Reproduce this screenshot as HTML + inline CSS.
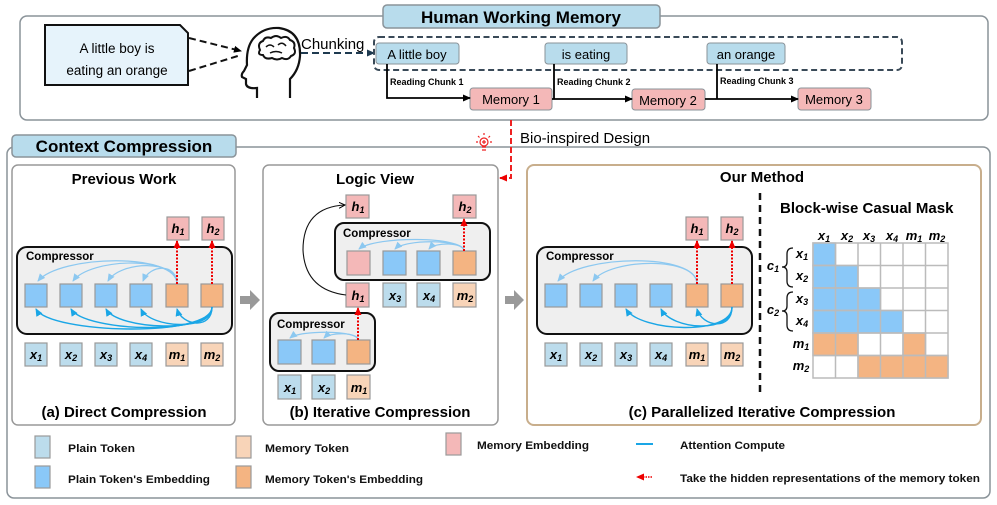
<!DOCTYPE html>
<html><head><meta charset="utf-8"><style>
html,body{margin:0;padding:0;background:#fff}
svg{display:block}
text{font-family:"Liberation Sans",sans-serif}
.m{font-family:"Liberation Serif",serif;font-style:italic;font-weight:bold;font-size:13px}
.s{font-size:9px}
.lg{font-size:11px;fill:#111;font-weight:bold}
</style></head><body>
<svg width="997" height="505" viewBox="0 0 997 505" xmlns="http://www.w3.org/2000/svg">
<defs>
<marker id="ab" markerWidth="8" markerHeight="8" refX="7" refY="4" orient="auto" markerUnits="userSpaceOnUse"><path d="M0,0.5 L8,4 L0,7.5 z" fill="#000"/></marker>
<marker id="ad" markerWidth="8" markerHeight="8" refX="7" refY="4" orient="auto" markerUnits="userSpaceOnUse"><path d="M0,0.5 L8,4 L0,7.5 z" fill="#1e3a50"/></marker>
<marker id="ar" markerWidth="8" markerHeight="8" refX="7" refY="4" orient="auto" markerUnits="userSpaceOnUse"><path d="M0,0.5 L8,4 L0,7.5 z" fill="#e00"/></marker>
<marker id="al" markerWidth="8" markerHeight="8" refX="7" refY="4" orient="auto" markerUnits="userSpaceOnUse"><path d="M0,0.5 L8,4 L0,7.5 z" fill="#8cc8f0"/></marker>
<marker id="ak" markerWidth="8" markerHeight="8" refX="7" refY="4" orient="auto" markerUnits="userSpaceOnUse"><path d="M0,0.5 L8,4 L0,7.5 z" fill="#1aa6e6"/></marker>
<marker id="an" markerWidth="7" markerHeight="7" refX="6" refY="3.5" orient="auto" markerUnits="userSpaceOnUse"><path d="M0,0.5 L6,3.5 L0,6.5" fill="none" stroke="#000"/></marker>
</defs>

<!-- Human Working Memory -->
<rect x="20" y="16" width="968" height="104" rx="7" fill="#fff" stroke="#8a9399" stroke-width="1.5"/>
<rect x="383" y="5" width="277" height="23" rx="4" fill="#b8dcec" stroke="#8a9399" stroke-width="1.5"/>
<text x="521" y="23" text-anchor="middle" font-weight="bold" font-size="17">Human Working Memory</text>

<path d="M45,25 L180,25 L188,33 L188,85 L45,85 z" fill="#e6f3fb" stroke="#111" stroke-width="2"/>
<text x="117" y="53" text-anchor="middle" font-size="13.5">A little boy is</text>
<text x="117" y="75" text-anchor="middle" font-size="13.5">eating an orange</text>
<line x1="189" y1="38" x2="241" y2="51" stroke="#111" stroke-width="2" stroke-dasharray="7,4" marker-end="url(#ab)"/>
<line x1="189" y1="71" x2="241" y2="55" stroke="#111" stroke-width="2" stroke-dasharray="7,4"/>
<!-- head -->
<path d="M257,98 L257,88 Q247,89 246,84 L246,79 L242,77 Q241,74 244,71 L247,65 Q246,48 253,39 Q263,27 279,28 Q301,31 300,56 Q299,70 290,79 L290,98" fill="none" stroke="#111" stroke-width="2.2"/>
<path d="M260,50 Q257,43 263,41 Q265,36 271,38 Q276,34 281,38 Q287,35 290,40 Q296,42 294,48 Q297,54 291,56 Q288,61 282,58 Q277,61 272,58 Q265,60 263,55 Q257,55 260,50 z" fill="none" stroke="#111" stroke-width="2"/>
<path d="M266,47 Q270,43 274,47 M278,45 Q282,41 286,46 M270,53 Q276,50 282,53" fill="none" stroke="#111" stroke-width="1.5"/>
<text x="301" y="49" font-size="15">Chunking</text>
<line x1="301" y1="53" x2="374" y2="53" stroke="#1e3a50" stroke-width="2" stroke-dasharray="7,4" marker-end="url(#ad)"/>
<rect x="374" y="37" width="528" height="33" rx="5" fill="none" stroke="#3a4a58" stroke-width="2" stroke-dasharray="6,3.5"/>
<rect x="376" y="43" width="83" height="21" rx="3" fill="#b8dcec" stroke="#8a9399"/>
<text x="417" y="59" text-anchor="middle" font-size="13">A little boy</text>
<rect x="545" y="43" width="82" height="21" rx="3" fill="#b8dcec" stroke="#8a9399"/>
<text x="586" y="59" text-anchor="middle" font-size="13">is eating</text>
<rect x="707" y="43" width="78" height="21" rx="3" fill="#b8dcec" stroke="#8a9399"/>
<text x="746" y="59" text-anchor="middle" font-size="13">an orange</text>
<rect x="470" y="88" width="82" height="22" rx="3" fill="#f4b8b8" stroke="#8a9399"/>
<text x="511" y="104" text-anchor="middle" font-size="13">Memory 1</text>
<rect x="632" y="89" width="73" height="21" rx="3" fill="#f4b8b8" stroke="#8a9399"/>
<text x="668" y="105" text-anchor="middle" font-size="13">Memory 2</text>
<rect x="798" y="88" width="73" height="22" rx="3" fill="#f4b8b8" stroke="#8a9399"/>
<text x="834" y="104" text-anchor="middle" font-size="13">Memory 3</text>
<path d="M387,64 L387,98 L470,98" fill="none" stroke="#000" stroke-width="1.8" marker-end="url(#ab)"/>
<path d="M554,64 L554,99 M552,99 L632,99" fill="none" stroke="#000" stroke-width="1.8" marker-end="url(#ab)"/>
<path d="M717,64 L717,99 M705,99 L798,99" fill="none" stroke="#000" stroke-width="1.8" marker-end="url(#ab)"/>
<text x="390" y="85" font-size="9" font-weight="bold">Reading Chunk 1</text>
<text x="557" y="85" font-size="9" font-weight="bold">Reading Chunk 2</text>
<text x="720" y="84" font-size="9" font-weight="bold">Reading Chunk 3</text>

<!-- Context Compression -->
<rect x="7" y="147" width="983" height="351" rx="7" fill="none" stroke="#8a9399" stroke-width="1.5"/>
<rect x="12" y="135" width="224" height="22" rx="4" fill="#b8dcec" stroke="#8a9399" stroke-width="1.5"/>
<text x="124" y="152" text-anchor="middle" font-weight="bold" font-size="17">Context Compression</text>
<!-- bio-inspired -->
<rect x="484" y="148" width="36" height="12" fill="#fff"/>
<g stroke="#e22" stroke-width="1.2" fill="none">
<circle cx="484" cy="142" r="4"/><path d="M482,147 L486,147 M482,150 L486,150 M484,140 L484,144 M482,142 L486,142"/>
<path d="M476,142 L478,142 M490,142 L492,142 M484,133 L484,135 M478,136 L479.5,137.5 M490,136 L488.5,137.5"/>
</g>
<path d="M511,120 L511,178 L500,178" fill="none" stroke="#e22" stroke-width="2" stroke-dasharray="6,3" marker-end="url(#ar)"/>
<text x="520" y="143" font-size="15">Bio-inspired Design</text>

<!-- panels -->
<rect x="12" y="165" width="223" height="260" rx="6" fill="#fff" stroke="#999" stroke-width="1.5"/>
<rect x="263" y="165" width="235" height="260" rx="6" fill="#fff" stroke="#999" stroke-width="1.5"/>
<rect x="527" y="165" width="454" height="260" rx="7" fill="#fff" stroke="#c8ae8c" stroke-width="2"/>
<path d="M240,296 L250,296 L250,290 L260,300 L250,310 L250,304 L240,304 z" fill="#999"/>
<path d="M505,296 L514,296 L514,290 L524,300 L514,310 L514,304 L505,304 z" fill="#999"/>
<text x="124" y="184" text-anchor="middle" font-size="15" font-weight="bold">Previous Work</text>
<text x="375" y="184" text-anchor="middle" font-size="15" font-weight="bold">Logic View</text>
<text x="762" y="182" text-anchor="middle" font-size="15" font-weight="bold">Our Method</text>
<text x="124" y="417" text-anchor="middle" font-size="15" font-weight="bold">(a) Direct Compression</text>
<text x="380" y="417" text-anchor="middle" font-size="15" font-weight="bold">(b) Iterative Compression</text>
<text x="762" y="417" text-anchor="middle" font-size="15" font-weight="bold">(c) Parallelized Iterative Compression</text>

<!-- Panel a -->
<rect x="17" y="247" width="215" height="87" rx="10" fill="#efefef" stroke="#111" stroke-width="2"/>
<text x="26" y="260" font-size="11.5" font-weight="bold">Compressor</text>
<g stroke="#999" stroke-width="1.2">
<rect x="25" y="284" width="22" height="23" fill="#8ac8f8"/><rect x="60" y="284" width="22" height="23" fill="#8ac8f8"/>
<rect x="95" y="284" width="22" height="23" fill="#8ac8f8"/><rect x="130" y="284" width="22" height="23" fill="#8ac8f8"/>
<rect x="166" y="284" width="22" height="23" fill="#f4b482"/><rect x="201" y="284" width="22" height="23" fill="#f4b482"/>
<rect x="167" y="217" width="22" height="23" fill="#f4b8b8"/><rect x="202" y="217" width="22" height="23" fill="#f4b8b8"/>
<rect x="25" y="343" width="22" height="23" fill="#bcdcec"/><rect x="60" y="343" width="22" height="23" fill="#bcdcec"/>
<rect x="95" y="343" width="22" height="23" fill="#bcdcec"/><rect x="130" y="343" width="22" height="23" fill="#bcdcec"/>
<rect x="166" y="343" width="22" height="23" fill="#f8d4b8"/><rect x="201" y="343" width="22" height="23" fill="#f8d4b8"/>
</g>
<g fill="none" stroke="#8cc8f0" stroke-width="1.2" marker-end="url(#al)">
<path d="M177,284 C177,252 60,255 38,281"/><path d="M177,284 C177,255 90,258 73,281"/><path d="M177,284 C177,259 120,261 108,281"/><path d="M177,284 C177,263 150,264 143,281"/>
</g>
<g fill="none" stroke="#1aa6e6" stroke-width="1.4" marker-end="url(#ak)">
<path d="M212,307 C212,338 50,334 36,309"/><path d="M212,307 C212,336 85,332 71,309"/><path d="M212,307 C212,334 118,330 106,309"/><path d="M212,307 C212,332 150,328 141,309"/><path d="M212,307 C212,330 182,326 177,309"/>
</g>
<g stroke="#e00" stroke-width="2" stroke-dasharray="2,1.5" marker-end="url(#ar)"><line x1="177" y1="284" x2="177" y2="241"/><line x1="212" y1="284" x2="212" y2="241"/></g>
<g class="m" text-anchor="middle">
<text x="178" y="233">h<tspan class="s" dy="2">1</tspan></text><text x="213" y="233">h<tspan class="s" dy="2">2</tspan></text>
<text x="36" y="359">x<tspan class="s" dy="2">1</tspan></text><text x="71" y="359">x<tspan class="s" dy="2">2</tspan></text>
<text x="106" y="359">x<tspan class="s" dy="2">3</tspan></text><text x="141" y="359">x<tspan class="s" dy="2">4</tspan></text>
<text x="177" y="359">m<tspan class="s" dy="2">1</tspan></text><text x="212" y="359">m<tspan class="s" dy="2">2</tspan></text>
</g>

<!-- Panel b -->
<rect x="335" y="223" width="155" height="57" rx="9" fill="#efefef" stroke="#111" stroke-width="2"/>
<text x="343" y="237" font-size="11.5" font-weight="bold">Compressor</text>
<rect x="270" y="313" width="105" height="58" rx="9" fill="#efefef" stroke="#111" stroke-width="2"/>
<text x="277" y="328" font-size="11.5" font-weight="bold">Compressor</text>
<g stroke="#999" stroke-width="1.2">
<rect x="346" y="195" width="23" height="23" fill="#f4b8b8"/><rect x="453" y="195" width="23" height="23" fill="#f4b8b8"/>
<rect x="347" y="251" width="23" height="24" fill="#f4b8b8"/><rect x="383" y="251" width="23" height="24" fill="#8ac8f8"/>
<rect x="417" y="251" width="23" height="24" fill="#8ac8f8"/><rect x="453" y="251" width="23" height="24" fill="#f4b482"/>
<rect x="346" y="283" width="23" height="24" fill="#f4b8b8"/><rect x="383" y="283" width="23" height="24" fill="#bcdcec"/>
<rect x="417" y="283" width="23" height="24" fill="#bcdcec"/><rect x="453" y="283" width="23" height="24" fill="#f8d4b8"/>
<rect x="278" y="340" width="23" height="24" fill="#8ac8f8"/><rect x="312" y="340" width="23" height="24" fill="#8ac8f8"/><rect x="347" y="340" width="23" height="24" fill="#f4b482"/>
<rect x="278" y="375" width="23" height="24" fill="#bcdcec"/><rect x="312" y="375" width="23" height="24" fill="#bcdcec"/><rect x="347" y="375" width="23" height="24" fill="#f8d4b8"/>
</g>
<g fill="none" stroke="#8cc8f0" stroke-width="1.2" marker-end="url(#al)">
<path d="M464,251 C464,236 375,236 359,249"/><path d="M464,251 C464,239 405,239 395,249"/><path d="M464,251 C464,242 435,242 429,249"/>
<path d="M358,340 C358,330 300,330 290,338"/><path d="M358,340 C358,332 330,332 324,338"/>
</g>
<g stroke="#e00" stroke-width="2" stroke-dasharray="2,1.5" marker-end="url(#ar)"><line x1="464" y1="251" x2="464" y2="219"/><line x1="358" y1="340" x2="358" y2="308"/></g>
<path d="M346,295 Q305,290 303,250 Q303,207 345,205" fill="none" stroke="#111" stroke-width="1.1" marker-end="url(#an)"/>
<g class="m" text-anchor="middle">
<text x="358" y="211">h<tspan class="s" dy="2">1</tspan></text><text x="465" y="211">h<tspan class="s" dy="2">2</tspan></text>
<text x="358" y="300">h<tspan class="s" dy="2">1</tspan></text><text x="395" y="300">x<tspan class="s" dy="2">3</tspan></text>
<text x="429" y="300">x<tspan class="s" dy="2">4</tspan></text><text x="465" y="300">m<tspan class="s" dy="2">2</tspan></text>
<text x="290" y="392">x<tspan class="s" dy="2">1</tspan></text><text x="324" y="392">x<tspan class="s" dy="2">2</tspan></text><text x="359" y="392">m<tspan class="s" dy="2">1</tspan></text>
</g>

<!-- Panel c -->
<rect x="537" y="247" width="215" height="87" rx="10" fill="#efefef" stroke="#111" stroke-width="2"/>
<text x="546" y="260" font-size="11.5" font-weight="bold">Compressor</text>
<g stroke="#999" stroke-width="1.2">
<rect x="545" y="284" width="22" height="23" fill="#8ac8f8"/><rect x="580" y="284" width="22" height="23" fill="#8ac8f8"/>
<rect x="615" y="284" width="22" height="23" fill="#8ac8f8"/><rect x="650" y="284" width="22" height="23" fill="#8ac8f8"/>
<rect x="686" y="284" width="22" height="23" fill="#f4b482"/><rect x="721" y="284" width="22" height="23" fill="#f4b482"/>
<rect x="686" y="217" width="22" height="23" fill="#f4b8b8"/><rect x="721" y="217" width="22" height="23" fill="#f4b8b8"/>
<rect x="545" y="343" width="22" height="23" fill="#bcdcec"/><rect x="580" y="343" width="22" height="23" fill="#bcdcec"/>
<rect x="615" y="343" width="22" height="23" fill="#bcdcec"/><rect x="650" y="343" width="22" height="23" fill="#bcdcec"/>
<rect x="686" y="343" width="22" height="23" fill="#f8d4b8"/><rect x="721" y="343" width="22" height="23" fill="#f8d4b8"/>
</g>
<g fill="none" stroke="#8cc8f0" stroke-width="1.2" marker-end="url(#al)">
<path d="M697,284 C697,252 580,255 558,281"/><path d="M697,284 C697,256 610,258 593,281"/>
</g>
<g fill="none" stroke="#1aa6e6" stroke-width="1.4" marker-end="url(#ak)">
<path d="M732,307 C732,336 640,332 626,309"/><path d="M732,307 C732,334 672,330 661,309"/><path d="M732,307 C732,331 702,327 697,309"/>
</g>
<g stroke="#e00" stroke-width="2" stroke-dasharray="2,1.5" marker-end="url(#ar)"><line x1="697" y1="284" x2="697" y2="241"/><line x1="732" y1="284" x2="732" y2="241"/></g>
<g class="m" text-anchor="middle">
<text x="697" y="233">h<tspan class="s" dy="2">1</tspan></text><text x="732" y="233">h<tspan class="s" dy="2">2</tspan></text>
<text x="556" y="359">x<tspan class="s" dy="2">1</tspan></text><text x="591" y="359">x<tspan class="s" dy="2">2</tspan></text>
<text x="626" y="359">x<tspan class="s" dy="2">3</tspan></text><text x="661" y="359">x<tspan class="s" dy="2">4</tspan></text>
<text x="697" y="359">m<tspan class="s" dy="2">1</tspan></text><text x="732" y="359">m<tspan class="s" dy="2">2</tspan></text>
</g>
<line x1="760" y1="193" x2="760" y2="393" stroke="#111" stroke-width="2.5" stroke-dasharray="7,5"/>
<text x="780" y="213" font-size="15" font-weight="bold">Block-wise Casual Mask</text>

<!-- matrix -->
<g stroke="#bbb" stroke-width="1.5">
<rect x="813" y="243" width="135" height="135" fill="#fff"/>
<rect x="813" y="243" width="22.5" height="22.5" fill="#8ac8f8"/>
<rect x="813" y="265.5" width="45" height="22.5" fill="#8ac8f8"/>
<rect x="813" y="288" width="67.5" height="22.5" fill="#8ac8f8"/>
<rect x="813" y="310.5" width="90" height="22.5" fill="#8ac8f8"/>
<rect x="813" y="333" width="45" height="22.5" fill="#f4b482"/><rect x="903" y="333" width="22.5" height="22.5" fill="#f4b482"/>
<rect x="858" y="355.5" width="90" height="22.5" fill="#f4b482"/>
<path fill="none" d="M835.5,243 V378 M858,243 V378 M880.5,243 V378 M903,243 V378 M925.5,243 V378 M813,265.5 H948 M813,288 H948 M813,310.5 H948 M813,333 H948 M813,355.5 H948"/>
</g>
<g class="m" text-anchor="middle" font-size="12">
<text x="824" y="240">x<tspan class="s" dy="2">1</tspan></text><text x="847" y="240">x<tspan class="s" dy="2">2</tspan></text>
<text x="869" y="240">x<tspan class="s" dy="2">3</tspan></text><text x="892" y="240">x<tspan class="s" dy="2">4</tspan></text>
<text x="914" y="240">m<tspan class="s" dy="2">1</tspan></text><text x="937" y="240">m<tspan class="s" dy="2">2</tspan></text>
<text x="802" y="258">x<tspan class="s" dy="2">1</tspan></text><text x="802" y="280">x<tspan class="s" dy="2">2</tspan></text>
<text x="802" y="303">x<tspan class="s" dy="2">3</tspan></text><text x="802" y="325">x<tspan class="s" dy="2">4</tspan></text>
<text x="801" y="348">m<tspan class="s" dy="2">1</tspan></text><text x="801" y="370">m<tspan class="s" dy="2">2</tspan></text>
<text x="773" y="270">c<tspan class="s" dy="2">1</tspan></text><text x="773" y="314">c<tspan class="s" dy="2">2</tspan></text>
</g>
<path d="M793,248 Q787,248 787,254 L787,262 Q787,267 782,267 Q787,267 787,272 L787,281 Q787,287 793,287" fill="none" stroke="#111" stroke-width="1.3"/>
<path d="M793,292 Q787,292 787,298 L787,306 Q787,311 782,311 Q787,311 787,316 L787,325 Q787,331 793,331" fill="none" stroke="#111" stroke-width="1.3"/>

<!-- legend -->
<g stroke="#999" stroke-width="1.2">
<rect x="35" y="436" width="15" height="22" fill="#bcdcec"/><rect x="35" y="466" width="15" height="22" fill="#8ac8f8"/>
<rect x="236" y="436" width="15" height="22" fill="#f8d4b8"/><rect x="236" y="466" width="15" height="22" fill="#f4b482"/>
<rect x="446" y="433" width="15" height="22" fill="#f4b8b8"/>
</g>
<text class="lg" x="68" y="452" textLength="67" lengthAdjust="spacingAndGlyphs">Plain Token</text>
<text class="lg" x="68" y="483" textLength="142" lengthAdjust="spacingAndGlyphs">Plain Token's Embedding</text>
<text class="lg" x="265" y="452" textLength="84" lengthAdjust="spacingAndGlyphs">Memory Token</text>
<text class="lg" x="265" y="483" textLength="158" lengthAdjust="spacingAndGlyphs">Memory Token's Embedding</text>
<text class="lg" x="477" y="449" textLength="112" lengthAdjust="spacingAndGlyphs">Memory Embedding</text>
<line x1="636" y1="444" x2="653" y2="444" stroke="#1aa6e6" stroke-width="2"/>
<text class="lg" x="680" y="449" textLength="105" lengthAdjust="spacingAndGlyphs">Attention Compute</text>
<line x1="652" y1="477" x2="637" y2="477" stroke="#e00" stroke-width="1.5" stroke-dasharray="1.5,1" marker-end="url(#ar)"/>
<text class="lg" x="680" y="482" textLength="300" lengthAdjust="spacingAndGlyphs">Take the hidden representations of the memory token</text>
</svg>
</body></html>
